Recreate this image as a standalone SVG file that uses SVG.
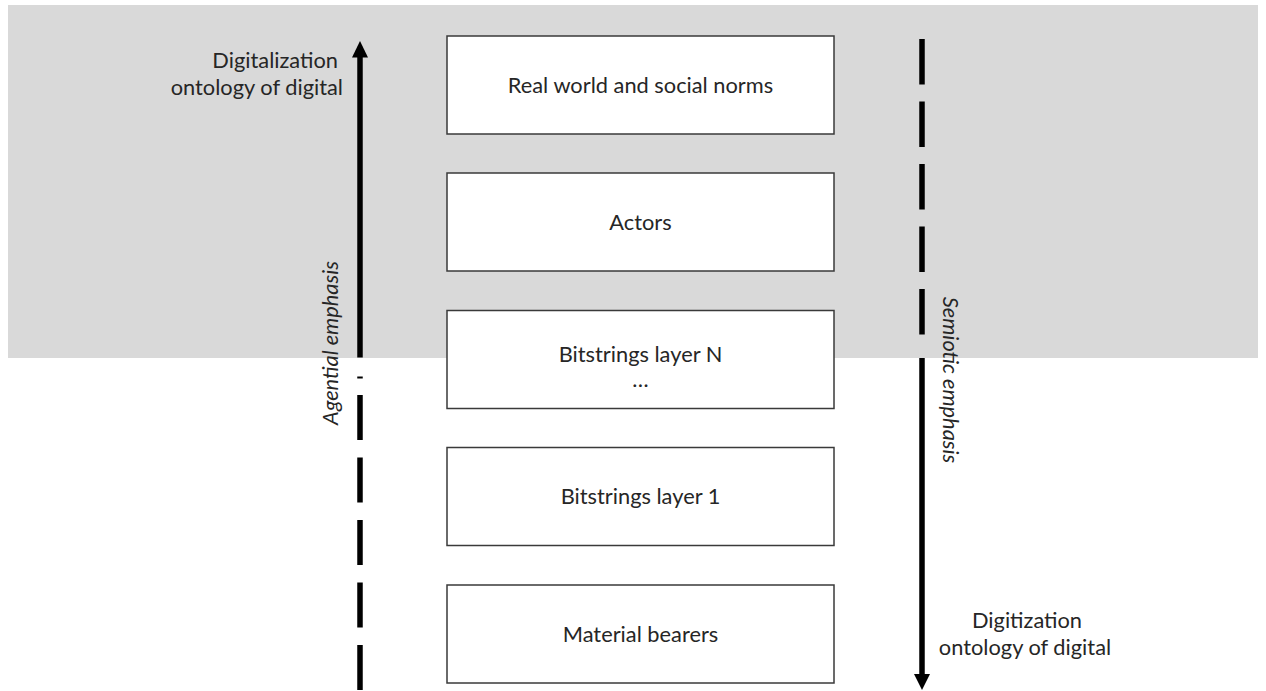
<svg xmlns="http://www.w3.org/2000/svg" width="1266" height="691" viewBox="0 0 1266 691">
<style>
.t{font-family:Lato,"Liberation Sans",sans-serif;font-size:21.8px;fill:#262626}
.c{text-anchor:middle}
.e{text-anchor:end}
.i{font-style:italic}
.box{fill:#fff;stroke:#3a3a3a;stroke-width:1.5}
.ln{stroke:#000;stroke-width:5.5;fill:none}
</style>
<rect x="0" y="0" width="1266" height="691" fill="#fff"/>
<rect id="band" x="8" y="5" width="1250" height="353" fill="#d9d9d9"/>
<g id="connectors">
  <line class="ln" x1="360" y1="55" x2="360" y2="357.5"/>
  <polygon points="360,41 352,57.5 368,57.5" fill="#000"/>
  <line class="ln" x1="360" y1="376.5" x2="360" y2="378.5"/>
  <line class="ln" x1="360" y1="395" x2="360" y2="691" stroke-dasharray="45 17.5"/>
  <line class="ln" x1="922" y1="39" x2="922" y2="335" stroke-dasharray="45.5 17"/>
  <line class="ln" x1="922" y1="358" x2="922" y2="676"/>
  <polygon points="922,690 914,674 930,674" fill="#000"/>
</g>
<g id="n1"><rect class="box" x="447" y="36" width="387" height="98"/><text class="t c" x="640.5" y="93">Real world and social norms</text></g>
<g id="n2"><rect class="box" x="447" y="173" width="387" height="98"/><text class="t c" x="640.5" y="230">Actors</text></g>
<g id="n3"><rect class="box" x="447" y="310.5" width="387" height="98"/><text class="t c" x="640.5" y="362">Bitstrings layer N</text><text class="t c" x="640.5" y="387">…</text></g>
<g id="n4"><rect class="box" x="447" y="447.5" width="387" height="98"/><text class="t c" x="640.5" y="504">Bitstrings layer 1</text></g>
<g id="n5"><rect class="box" x="447" y="585" width="387" height="98"/><text class="t c" x="640.5" y="642">Material bearers</text></g>
<g id="labels">
  <text class="t e" x="338" y="68">Digitalization</text>
  <text class="t e" x="343" y="95">ontology of digital</text>
  <text class="t c" x="1027" y="628">Digitization</text>
  <text class="t c" x="1025" y="655">ontology of digital</text>
  <text class="t c i" transform="translate(337.5,343) rotate(-90)">Agential emphasis</text>
  <text class="t c i" transform="translate(943,380) rotate(90)">Semiotic emphasis</text>
</g>
</svg>
